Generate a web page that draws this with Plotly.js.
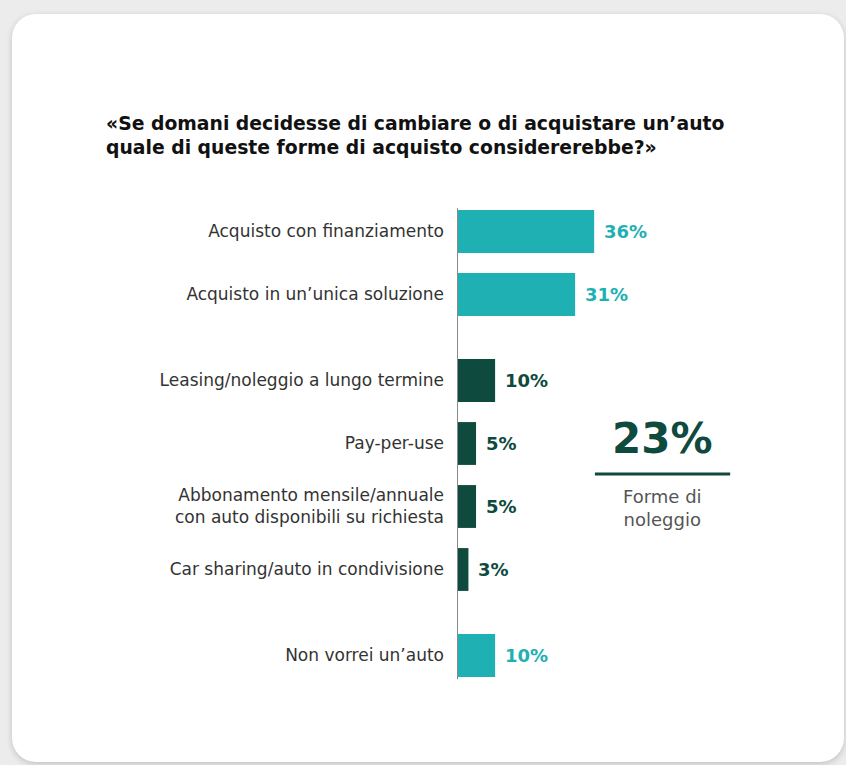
<!DOCTYPE html>
<html>
<head>
<meta charset="utf-8">
<script src="https://cdn.plot.ly/plotly-3.0.1.min.js"></script>
<style>
  html, body { margin: 0; padding: 0; background: #ececec; width: 846px; height: 765px; overflow: hidden; }
  #card { position: absolute; left: 12px; top: 14px; width: 832px; height: 748px; background: #ffffff;
          border-radius: 24px; box-shadow: 0 2px 6px rgba(0,0,0,0.18); }
  #chart { position: absolute; left: 0; top: 0; width: 846px; height: 765px; }
</style>
</head>
<body>
<div id="card"></div>
<div id="chart"></div>
<script>
// ---- data ----
const categories = [
  "Acquisto con finanziamento",
  "Acquisto in un’unica soluzione",
  "Leasing/noleggio a lungo termine",
  "Pay-per-use",
  "Abbonamento mensile/annuale<br>con auto disponibili su richiesta",
  "Car sharing/auto in condivisione",
  "Non vorrei un’auto"
];
const values = [36, 31, 10, 5, 5, 3, 10];
const groups = [0, 0, 1, 1, 1, 1, 2];   // 0 = acquisto, 1 = noleggio, 2 = nessuna auto
const summaryValue = 23;
const summaryLabel = "Forme di<br>noleggio";
const titleText = "«Se domani decidesse di cambiare o di acquistare un’auto<br>quale di queste forme di acquisto considererebbe?»";

// ---- styles ----
const TEAL = "#1fb0b3";
const DARK = "#0e4a3d";
const groupGap = 0.365;
const barColors = groups.map(g => g === 1 ? DARK : TEAL);
const positions = categories.map((c, i) => i + groups[i] * groupGap);
const maxPos = positions[positions.length - 1];

const trace = {
  type: "bar",
  orientation: "h",
  x: values,
  y: positions,
  width: 0.68,
  marker: { color: barColors },
  hoverinfo: "skip"
};

const annotations = values.map((v, i) => ({
  x: v, y: positions[i], xref: "x", yref: "y",
  text: v + "%", showarrow: false, xanchor: "left", xshift: 8,
  font: { family: "DejaVu Sans", size: 18, color: barColors[i], weight: "bold" }
}));

annotations.push({
  xref: "paper", yref: "paper", x: 0.540, y: 0.511, xanchor: "center", yanchor: "middle",
  text: summaryValue + "%", showarrow: false,
  font: { family: "DejaVu Sans", size: 42, color: DARK, weight: "bold" }
});
annotations.push({
  xref: "paper", yref: "paper", x: 0.540, y: 0.368, xanchor: "center", yanchor: "middle",
  text: summaryLabel, showarrow: false,
  font: { family: "DejaVu Sans", size: 18, color: "#555555" }
});

const layout = {
  width: 846, height: 765,
  paper_bgcolor: "rgba(0,0,0,0)",
  plot_bgcolor: "rgba(0,0,0,0)",
  showlegend: false,
  margin: { l: 457, r: 8, t: 199.5, b: 77.5, pad: 0 },
  title: {
    text: titleText,
    xref: "container", yref: "container",
    x: 106 / 846, xanchor: "left",
    y: 1 - 130 / 765, yanchor: "middle",
    font: { family: "DejaVu Sans", size: 18.8, color: "#111111", weight: "bold" }
  },
  xaxis: {
    range: [0, 100], showgrid: false, zeroline: false, showline: false,
    showticklabels: false, ticks: "", fixedrange: true
  },
  yaxis: {
    range: [maxPos + 0.5, -0.5], showgrid: false, zeroline: false, showline: false,
    tickvals: positions, ticktext: categories, ticks: "", ticklabelstandoff: 12,
    tickfont: { family: "DejaVu Sans", size: 17, color: "#333333" }, fixedrange: true
  },
  shapes: [
    { type: "line", xref: "x", yref: "paper", x0: 0, x1: 0, y0: 0.016, y1: 0.983,
      line: { color: "#8a8a8a", width: 2 } },
    { type: "line", xref: "x", yref: "paper", x0: 36.2, x1: 71.7, y0: 0.4375, y1: 0.4375,
      line: { color: DARK, width: 3 } }
  ],
  annotations: annotations
};

Plotly.newPlot("chart", [trace], layout, { displayModeBar: false, staticPlot: true });
</script>
</body>
</html>
